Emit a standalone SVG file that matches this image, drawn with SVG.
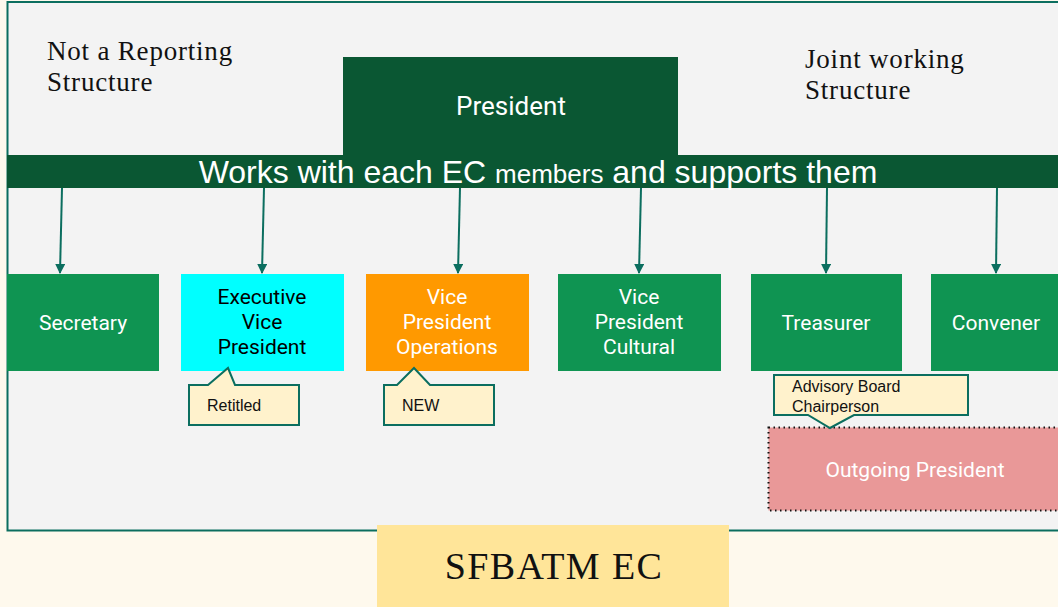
<svg xmlns="http://www.w3.org/2000/svg" width="1058" height="607" viewBox="0 0 1058 607">
<style>
.serif{font-family:"Liberation Serif","DejaVu Serif",serif;fill:#111;font-size:27px;letter-spacing:0.8px}
.sans{font-family:Roboto,"Liberation Sans",sans-serif;font-size:21px;text-anchor:middle}
.big{font-size:26px}
.w{fill:#ffffff}
.k{fill:#000000}
.box{fill:#0f9452}
.note{fill:#fff2cc;stroke:#0b6e5f;stroke-width:2}
.notet{font-family:"Liberation Sans",Arial,sans-serif;font-size:16px;fill:#111}
.conn{stroke:#0b6e5f;stroke-width:2;fill:none}
.title{font-size:38px;letter-spacing:1.4px}
</style>
<defs>
<marker id="ah" viewBox="0 0 10 10" refX="9" refY="5" markerWidth="5" markerHeight="5" orient="auto" markerUnits="strokeWidth">
<path d="M0,0 L10,5 L0,10 z" fill="#0b6e5f"/>
</marker>
</defs>
<rect x="0" y="0" width="1058" height="607" fill="#fef9ed"/>
<rect x="7.5" y="2" width="1060" height="528.5" fill="#f3f3f3" stroke="#0b6e5f" stroke-width="2"/>
<text class="serif" x="47" y="60">Not a Reporting</text>
<text class="serif" x="47" y="91">Structure</text>
<text class="serif" x="805" y="68">Joint working</text>
<text class="serif" x="805" y="99">Structure</text>
<g id="president">
<rect x="343" y="57" width="335" height="99" fill="#0a5733"/>
<text class="sans w big" x="511" y="115">President</text>
</g>
<g id="banner">
<rect x="7" y="155" width="1051" height="33" fill="#0a5733"/>
<text x="538" y="183" text-anchor="middle" font-family="Liberation Sans,Arial,sans-serif" font-size="32" fill="#ffffff">Works with each EC <tspan font-size="26">members</tspan> and supports them</text>
</g>
<g id="connectors">
<line class="conn" x1="62" y1="188" x2="60" y2="273" marker-end="url(#ah)"/>
<line class="conn" x1="264" y1="188" x2="262" y2="273" marker-end="url(#ah)"/>
<line class="conn" x1="460" y1="188" x2="458" y2="273" marker-end="url(#ah)"/>
<line class="conn" x1="641" y1="188" x2="639" y2="273" marker-end="url(#ah)"/>
<line class="conn" x1="827" y1="188" x2="826" y2="273" marker-end="url(#ah)"/>
<line class="conn" x1="997" y1="188" x2="996" y2="273" marker-end="url(#ah)"/>
</g>
<g id="secretary">
<rect class="box" x="7" y="274" width="152" height="97"/>
<text class="sans w" x="83" y="330">Secretary</text>
</g>
<g id="evp">
<rect x="181" y="274" width="163" height="97" fill="#00ffff"/>
<text class="sans k" x="262" y="304">Executive</text>
<text class="sans k" x="262" y="329">Vice</text>
<text class="sans k" x="262" y="354">President</text>
</g>
<g id="vpops">
<rect x="366" y="274" width="163" height="97" fill="#ff9900"/>
<text class="sans w" x="447" y="304">Vice</text>
<text class="sans w" x="447" y="329">President</text>
<text class="sans w" x="447" y="354">Operations</text>
</g>
<g id="vpcultural">
<rect class="box" x="558" y="274" width="163" height="97"/>
<text class="sans w" x="639" y="304">Vice</text>
<text class="sans w" x="639" y="329">President</text>
<text class="sans w" x="639" y="354">Cultural</text>
</g>
<g id="treasurer">
<rect class="box" x="751" y="274" width="151" height="97"/>
<text class="sans w" x="826" y="330">Treasurer</text>
</g>
<g id="convener">
<rect class="box" x="931" y="274" width="127" height="97"/>
<text class="sans w" x="996" y="330">Convener</text>
</g>
<g id="retitled">
<path class="note" d="M189,385 L208,385 L228,368 L235,385 L299,385 L299,425 L189,425 Z"/>
<text class="notet" x="207" y="411">Retitled</text>
</g>
<g id="new">
<path class="note" d="M384,385 L397,385 L414,368 L430,385 L494,385 L494,425 L384,425 Z"/>
<text class="notet" x="402" y="411">NEW</text>
</g>
<g id="outgoing">
<rect x="768.5" y="427.5" width="295" height="83" fill="#e99898" stroke="#111" stroke-width="2" stroke-dasharray="1.5,3.5"/>
<text class="sans w" x="915" y="477">Outgoing President</text>
</g>
<g id="advisory">
<path class="note" d="M774,375 L968,375 L968,415 L854,415 L830,428 L808,415 L774,415 Z"/>
<text class="notet" x="792" y="392">Advisory Board</text>
<text class="notet" x="792" y="412">Chairperson</text>
</g>
<g id="title">
<rect x="377" y="525" width="352" height="82" fill="#ffe599"/>
<text class="serif title" x="554" y="579" text-anchor="middle">SFBATM EC</text>
</g>
</svg>
